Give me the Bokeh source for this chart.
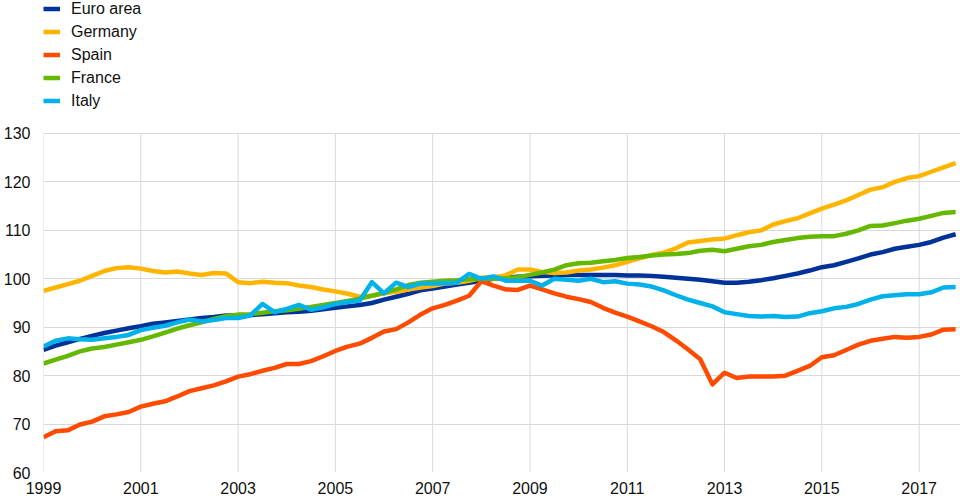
from bokeh.plotting import figure
from bokeh.models import Range1d, FixedTicker, Legend, LegendItem
from bokeh.embed import file_html
from bokeh.resources import INLINE

# Quarterly data 1999Q1 .. 2017Q4 (index, 2008 ~ 100)
quarters = [1999 + i / 4 for i in range(76)]

euro_area = [85.3, 86.2, 86.9, 87.6, 88.2, 88.8, 89.3, 89.8, 90.2, 90.7, 91.0, 91.3,
             91.6, 91.9, 92.1, 92.4, 92.4, 92.5, 92.7, 92.9, 93.1, 93.2, 93.4, 93.7,
             94.0, 94.3, 94.6, 95.0, 95.7, 96.3, 96.9, 97.6, 98.0, 98.4, 98.8, 99.2,
             99.6, 100.0, 100.2, 100.4, 100.5, 100.6, 100.7, 100.8, 100.8, 100.8, 100.8, 100.8,
             100.7, 100.7, 100.6, 100.4, 100.2, 100.0, 99.8, 99.5, 99.2, 99.2, 99.4, 99.7,
             100.1, 100.6, 101.1, 101.7, 102.4, 102.8, 103.5, 104.2, 105.0, 105.5, 106.2, 106.6,
             107.0, 107.6, 108.5, 109.2]

germany = [97.5, 98.2, 98.9, 99.6, 100.6, 101.6, 102.2, 102.4, 102.1, 101.6, 101.3, 101.5,
           101.1, 100.8, 101.2, 101.1, 99.3, 99.1, 99.4, 99.2, 99.1, 98.6, 98.3, 97.8,
           97.4, 96.9, 96.3, 96.5, 97.0, 97.3, 97.8, 98.2, 98.5, 99.0, 99.2, 99.6,
           100.2, 100.3, 100.7, 101.9, 101.9, 101.4, 101.2, 101.3, 101.7, 101.9, 102.3, 102.8,
           103.5, 104.2, 104.9, 105.4, 106.3, 107.5, 107.8, 108.1, 108.3, 109.0, 109.6, 110.0,
           111.2, 111.9, 112.5, 113.5, 114.5, 115.3, 116.2, 117.3, 118.4, 118.9, 120.0, 120.8,
           121.2, 122.1, 123.0, 123.9]

spain = [67.3, 68.5, 68.7, 69.9, 70.5, 71.6, 72.0, 72.5, 73.6, 74.2, 74.7, 75.7,
         76.8, 77.4, 78.0, 78.8, 79.8, 80.3, 81.0, 81.6, 82.4, 82.4, 83.0, 84.0,
         85.1, 86.0, 86.6, 87.8, 89.1, 89.6, 91.0, 92.6, 93.9, 94.6, 95.5, 96.5,
         99.5, 98.6, 97.8, 97.7, 98.6, 97.8, 97.0, 96.3, 95.8, 95.2, 94.0, 93.0,
         92.2, 91.2, 90.2, 89.0, 87.3, 85.4, 83.4, 78.2, 80.6, 79.5, 79.8, 79.8,
         79.8, 80.0, 81.0, 82.0, 83.8, 84.2, 85.3, 86.4, 87.2, 87.6, 88.0, 87.8,
         88.0, 88.5, 89.5, 89.6]

france = [82.5, 83.3, 84.1, 85.0, 85.6, 85.9, 86.4, 86.9, 87.4, 88.1, 88.9, 89.7,
          90.4, 91.0, 91.7, 92.3, 92.6, 92.7, 93.0, 93.3, 93.5, 93.8, 94.2, 94.6,
          95.0, 95.4, 95.9, 96.5, 97.1, 97.8, 98.7, 99.2, 99.4, 99.6, 99.7, 99.9,
          100.0, 100.0, 100.1, 100.3, 100.8, 101.3, 101.9, 102.8, 103.2, 103.3, 103.6, 103.9,
          104.3, 104.5, 104.8, 105.0, 105.1, 105.3, 105.8, 106.0, 105.7, 106.2, 106.7, 107.0,
          107.6, 108.0, 108.4, 108.7, 108.8, 108.8, 109.3, 110.0, 110.9, 111.0, 111.5, 112.0,
          112.4, 113.0, 113.6, 113.8]

italy = [86.0, 87.2, 87.7, 87.5, 87.4, 87.7, 88.0, 88.4, 89.4, 89.9, 90.3, 91.0,
         91.6, 91.2, 91.5, 91.9, 91.9, 92.4, 94.8, 93.1, 93.8, 94.6, 93.6, 94.1,
         94.8, 95.2, 95.5, 99.3, 97.0, 99.2, 98.3, 99.0, 99.0, 99.1, 99.2, 101.0,
         100.0, 100.5, 99.6, 99.6, 99.6, 98.6, 100.0, 99.8, 99.6, 100.0, 99.3, 99.5,
         99.0, 98.8, 98.4, 97.6, 96.6, 95.7, 95.0, 94.3, 93.1, 92.7, 92.3, 92.2,
         92.3, 92.1, 92.2, 92.9, 93.3, 93.9, 94.2, 94.8, 95.7, 96.4, 96.6, 96.8,
         96.8, 97.2, 98.2, 98.3]

series_names = ["Euro area", "Germany", "Spain", "France", "Italy"]
series_values = [euro_area, germany, spain, france, italy]
series_colors = ["#003299", "#FFB400", "#FF4B00", "#65B800", "#00B1EA"]

x_ticks = list(range(1999, 2018, 2))
y_ticks = list(range(60, 131, 10))

FONT = "Liberation Sans"
GRID = "#d9d9d9"

# frame spans the whole height; the space above 130 holds the legend
p = figure(width=960, height=498, output_backend="svg", toolbar_location=None,
           x_range=Range1d(1999, 2017.85), y_range=Range1d(60, 157.46),
           min_border_left=40, min_border_right=0, min_border_top=0,
           min_border_bottom=26)
p.outline_line_color = None
p.background_fill_color = "white"
p.border_fill_color = "white"

# vertical grid lines limited to the value range
n = len(x_ticks)
p.segment(x0=x_ticks, y0=[y_ticks[0]] * n, x1=x_ticks, y1=[y_ticks[-1]] * n,
          line_color=GRID, line_width=1)

items = []
for name, vals, col in zip(series_names, series_values, series_colors):
    r = p.line(quarters, vals, line_color=col, line_width=4.5, line_join="round")
    items.append(LegendItem(label=name, renderers=[r]))

for ax in (p.xaxis[0], p.yaxis[0]):
    ax.axis_line_color = None
    ax.major_tick_line_color = None
    ax.minor_tick_line_color = None
    ax.major_tick_in = 0
    ax.major_tick_out = 0
    ax.minor_tick_in = 0
    ax.minor_tick_out = 0
    ax.major_label_text_font = FONT
    ax.major_label_text_font_size = "16px"
    ax.major_label_text_color = "#111111"

p.xaxis[0].ticker = FixedTicker(ticks=x_ticks)
p.yaxis[0].ticker = FixedTicker(ticks=y_ticks)
p.xaxis[0].major_label_standoff = 9
p.yaxis[0].major_label_standoff = 13

p.xgrid.visible = False
p.ygrid[0].ticker = FixedTicker(ticks=y_ticks)
p.ygrid[0].grid_line_color = GRID
p.ygrid[0].grid_line_width = 1

legend = Legend(items=items, location=(0, 362), orientation="vertical",
                label_text_font=FONT, label_text_font_size="16px",
                label_text_color="#111111",
                label_height=19, glyph_height=19, glyph_width=17,
                label_standoff=11, spacing=4, padding=0, margin=0,
                border_line_color=None, background_fill_alpha=0)
p.add_layout(legend, "center")

open("out.html", "w").write(file_html(p, INLINE))
